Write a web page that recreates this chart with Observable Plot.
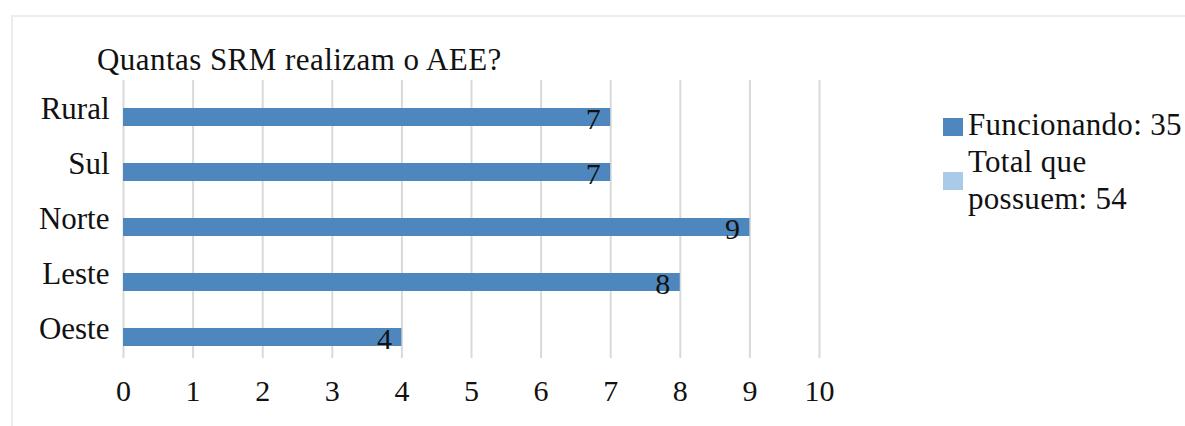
<!DOCTYPE html>
<html>
<head>
<meta charset="utf-8">
<script src="https://cdn.jsdelivr.net/npm/d3@7"></script>
<script src="https://cdn.jsdelivr.net/npm/@observablehq/plot@0.6"></script>
<style>
  html, body { margin: 0; padding: 0; background: #fff; }
  #wrap { position: relative; width: 1185px; height: 426px; overflow: hidden; font-family: "Liberation Serif", "Times New Roman", serif; color: #111; }
  #frame { position: absolute; left: 11px; top: 15px; width: 1200px; height: 430px; border-left: 2px solid #ececec; border-top: 2px solid #ececec; }
  #title { position: absolute; left: 97px; top: 43px; font-size: 31px; line-height: 34px; white-space: nowrap; letter-spacing: 0.45px; }
  #chart { position: absolute; left: 0; top: 0; }
  #legend { position: absolute; left: 943px; top: 106px; font-size: 31px; line-height: 37px; letter-spacing: 0.3px; }
  .item { position: relative; padding-left: 25px; }
  .sw { position: absolute; left: 0; width: 20px; height: 18px; }
</style>
</head>
<body>
<div id="wrap">
  <div id="frame"></div>
  <div id="title"></div>
  <div id="chart"></div>
  <div id="legend"></div>
</div>
<script>
// Data
const categories = ["Rural", "Sul", "Norte", "Leste", "Oeste"];
const funcionando = [7, 7, 9, 8, 4];
const seriesNames = ["Funcionando", "Total que possuem"];
const seriesTotals = [d3.sum(funcionando), 54];
const seriesColors = ["#4E87BE", "#A9CBE9"];
const xTicks = [0, 1, 2, 3, 4, 5, 6, 7, 8, 9, 10];
const titleText = "Quantas SRM realizam o AEE?";

const rows = categories.map((c, i) => ({category: c, value: funcionando[i]}));

document.getElementById("title").textContent = titleText;

const chart = Plot.plot({
  width: 1185,
  height: 426,
  marginLeft: 123,
  marginRight: 366,
  marginTop: 80,
  marginBottom: 68,
  style: {fontFamily: "'Liberation Serif', 'Times New Roman', serif", fontSize: "30px", color: "#111", background: "transparent"},
  x: {domain: [0, 10], ticks: xTicks, tickFormat: d3.format("d")},
  y: {domain: categories, paddingInner: 0.676, paddingOuter: 0.338, align: 0.5},
  marks: [
    Plot.gridX(xTicks, {stroke: "#d9d9d9", strokeOpacity: 1, strokeWidth: 2}),
    Plot.axisX({ticks: xTicks, tickSize: 0, tickPadding: 21, label: null, fontSize: 30}),
    Plot.axisY({tickSize: 0, tickPadding: 14, label: null, fontSize: 31, style: {letterSpacing: "0.8px"}}),
    Plot.barX(rows, {x: "value", y: "category", fill: seriesColors[0], dy: 8}),
    Plot.text(rows, {x: "value", y: "category", text: d => String(d.value), textAnchor: "end", dx: -10, dy: 10, fontSize: 30, fill: "#111"})
  ]
});
document.getElementById("chart").appendChild(chart);

const legend = document.getElementById("legend");
const legendLines = [["Funcionando: " + seriesTotals[0]], ["Total que", "possuem: " + seriesTotals[1]]];
legendLines.forEach((lines, i) => {
  const item = document.createElement("div");
  item.className = "item";
  const sw = document.createElement("span");
  sw.className = "sw";
  sw.style.background = seriesColors[i];
  sw.style.top = (lines.length === 1 ? 12 : 29) + "px";
  item.appendChild(sw);
  lines.forEach(l => {
    const d = document.createElement("div");
    d.textContent = l;
    d.style.whiteSpace = "nowrap";
    item.appendChild(d);
  });
  legend.appendChild(item);
});
</script>
</body>
</html>
